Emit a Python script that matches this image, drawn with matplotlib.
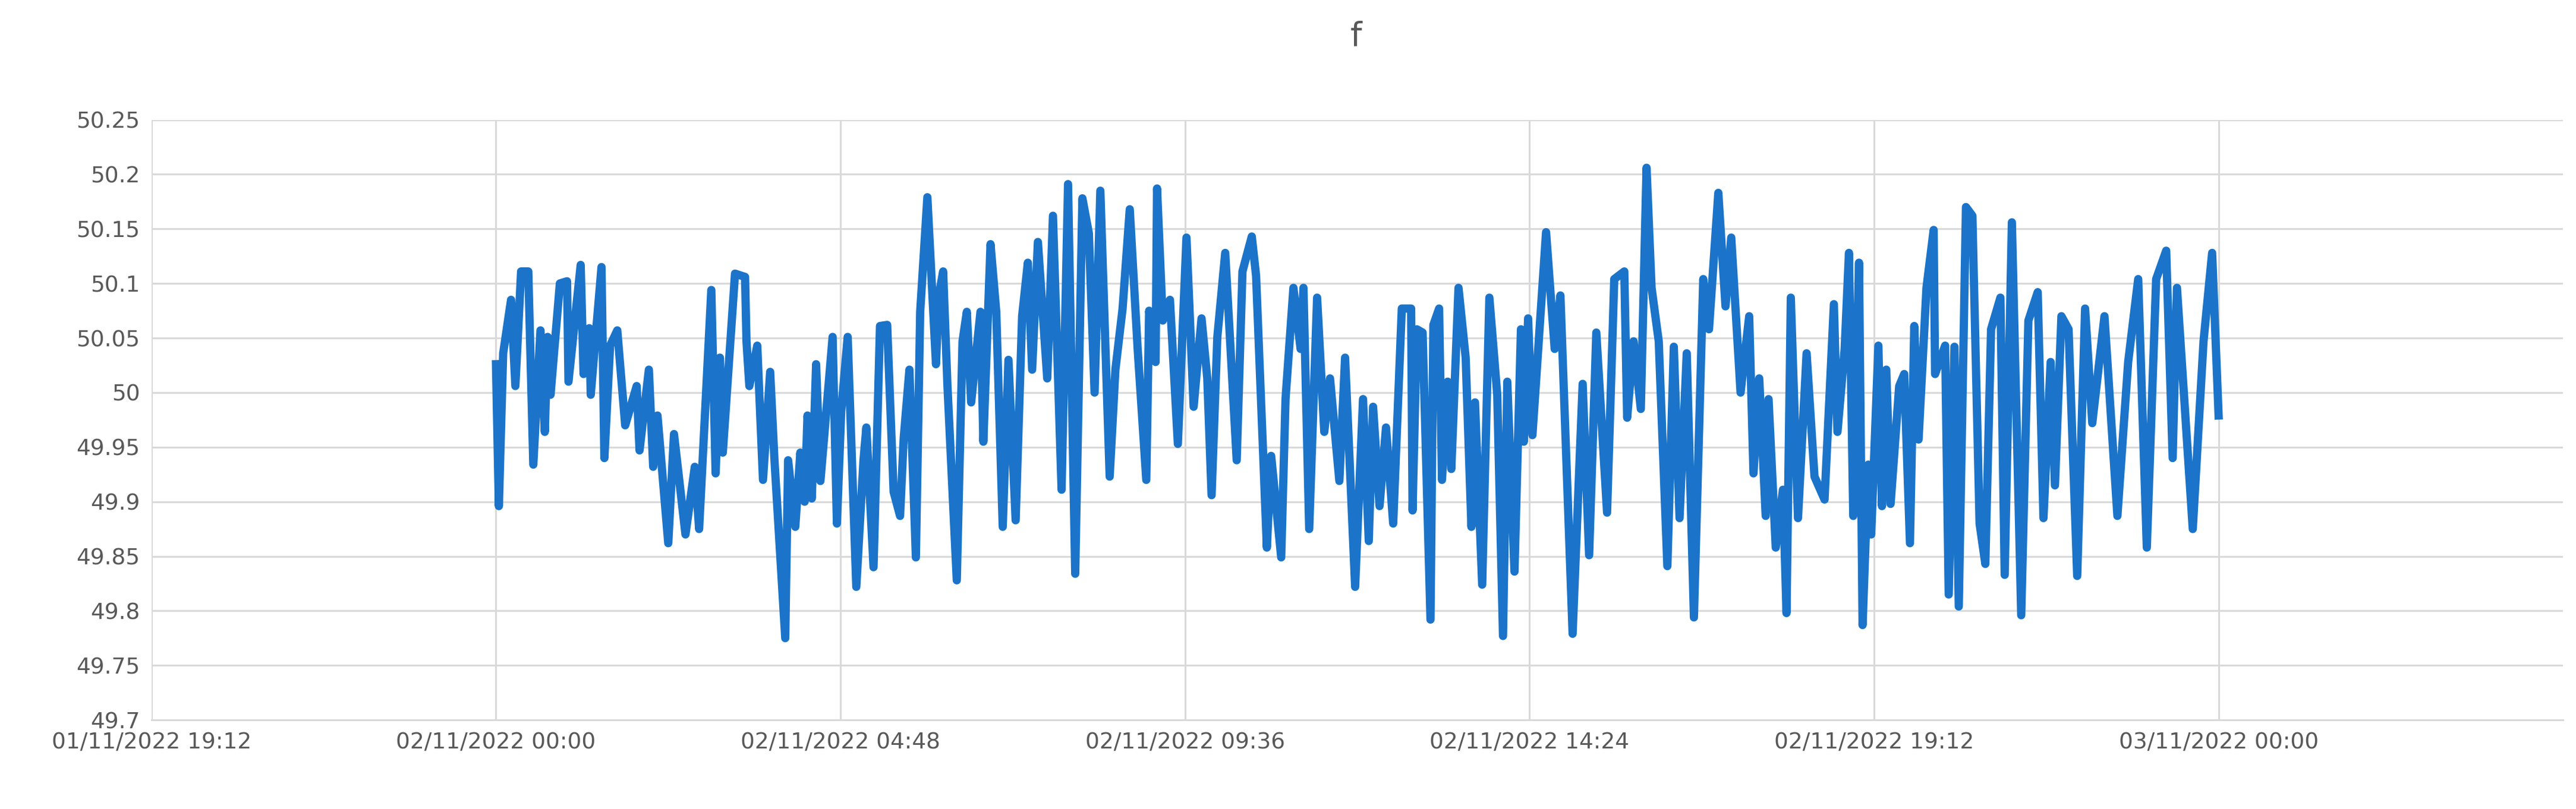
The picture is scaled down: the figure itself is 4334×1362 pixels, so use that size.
import matplotlib
matplotlib.use("Agg")
import matplotlib.pyplot as plt
import numpy as np

# hours since 02/11/2022 00:00, grid frequency (Hz)
HOURS = [
    0.00, 0.04, 0.10, 0.21, 0.27, 0.35, 0.45, 0.52, 0.62, 0.68, 0.72, 0.76, 0.89, 0.99,
    1.01, 1.18, 1.22, 1.30, 1.32, 1.47, 1.51, 1.59, 1.69, 1.80, 1.96, 2.00, 2.13, 2.19,
    2.25, 2.40, 2.48, 2.64, 2.77, 2.83, 3.00, 3.06, 3.12, 3.16, 3.33, 3.47, 3.49, 3.53,
    3.64, 3.72, 3.82, 3.88, 4.03, 4.07, 4.17, 4.24, 4.30, 4.34, 4.40, 4.46, 4.52, 4.69,
    4.75, 4.81, 4.90, 5.02, 5.12, 5.16, 5.26, 5.35, 5.45, 5.54, 5.63, 5.68, 5.76, 5.85,
    5.91, 6.01, 6.13, 6.17, 6.23, 6.29, 6.42, 6.50, 6.56, 6.62, 6.75, 6.79, 6.89, 6.97,
    7.06, 7.14, 7.24, 7.33, 7.41, 7.47, 7.55, 7.68, 7.76, 7.88, 7.97, 8.07, 8.17, 8.26,
    8.34, 8.42, 8.55, 8.63, 8.73, 8.83, 8.94, 9.06, 9.10, 9.19, 9.21, 9.29, 9.39, 9.50,
    9.62, 9.72, 9.83, 9.91, 9.97, 10.05, 10.16, 10.32, 10.40, 10.53, 10.59, 10.74, 10.80,
    10.94, 11.00, 11.11, 11.21, 11.25, 11.33, 11.44, 11.54, 11.62, 11.75, 11.83, 11.97,
    12.08, 12.16, 12.22, 12.31, 12.40, 12.50, 12.62, 12.75, 12.77, 12.83, 12.91, 13.02,
    13.06, 13.14, 13.18, 13.26, 13.31, 13.41, 13.51, 13.59, 13.64, 13.74, 13.84, 13.95,
    14.03, 14.09, 14.19, 14.28, 14.32, 14.38, 14.44, 14.63, 14.75, 14.83, 15.00, 15.14,
    15.23, 15.33, 15.48, 15.58, 15.72, 15.76, 15.85, 15.95, 16.03, 16.10, 16.20, 16.32,
    16.41, 16.49, 16.59, 16.69, 16.82, 16.90, 17.03, 17.13, 17.21, 17.34, 17.46, 17.52,
    17.60, 17.69, 17.73, 17.83, 17.93, 17.98, 18.04, 18.14, 18.26, 18.37, 18.51, 18.64,
    18.69, 18.79, 18.85, 18.91, 18.99, 19.04, 19.12, 19.16, 19.26, 19.31, 19.37, 19.43,
    19.55, 19.62, 19.70, 19.76, 19.82, 19.93, 20.03, 20.05, 20.19, 20.24, 20.32, 20.38,
    20.48, 20.57, 20.67, 20.75, 20.83, 20.96, 21.02, 21.12, 21.25, 21.35, 21.48, 21.56,
    21.66, 21.72, 21.81, 21.91, 22.03, 22.14, 22.24, 22.41, 22.59, 22.74, 22.88, 23.00,
    23.13, 23.27, 23.36, 23.42, 23.64, 23.79, 23.91, 24.00,
]
FREQ = [
    50.026, 49.896, 50.036, 50.085, 50.006, 50.111, 50.111, 49.934, 50.057, 49.964, 50.051, 49.998, 50.100, 50.102,
    50.010, 50.117, 50.017, 50.059, 49.998, 50.115, 49.940, 50.043, 50.057, 49.970, 50.006, 49.947, 50.021, 49.932,
    49.979, 49.862, 49.962, 49.870, 49.932, 49.875, 50.094, 49.926, 50.032, 49.945, 50.109, 50.106, 50.047, 50.006,
    50.043, 49.920, 50.019, 49.938, 49.775, 49.938, 49.877, 49.945, 49.900, 49.979, 49.903, 50.026, 49.919, 50.051,
    49.880, 49.983, 50.051, 49.822, 49.938, 49.968, 49.840, 50.061, 50.062, 49.909, 49.887, 49.958, 50.021, 49.849,
    50.074, 50.179, 50.026, 50.089, 50.111, 50.006, 49.828, 50.047, 50.074, 49.991, 50.074, 49.955, 50.136, 50.074,
    49.877, 50.030, 49.883, 50.070, 50.119, 50.021, 50.138, 50.013, 50.162, 49.911, 50.191, 49.834, 50.178, 50.146,
    50.000, 50.185, 49.923, 50.021, 50.077, 50.168, 50.040, 49.920, 50.075, 50.028, 50.187, 50.066, 50.085, 49.953,
    50.142, 49.987, 50.068, 50.013, 49.906, 50.051, 50.128, 49.938, 50.111, 50.143, 50.107, 49.858, 49.942,
    49.849, 49.994, 50.096, 50.040, 50.096, 49.875, 50.087, 49.964, 50.013, 49.919, 50.032, 49.822,
    49.994, 49.864, 49.987, 49.896, 49.968, 49.880, 50.077, 50.077, 49.892, 50.058, 50.055, 49.792,
    50.062, 50.077, 49.920, 50.010, 49.930, 50.096, 50.032, 49.877, 49.991, 49.824, 50.087, 49.998,
    49.777, 50.010, 49.836, 50.058, 49.955, 50.068, 49.961, 50.147, 50.040, 50.089, 49.779, 50.008,
    49.851, 50.055, 49.890, 50.104, 50.111, 49.977, 50.047, 49.985, 50.206, 50.096, 50.047, 49.841,
    50.042, 49.885, 50.036, 49.794, 50.104, 50.058, 50.183, 50.079, 50.142, 50.000, 50.070, 49.926,
    50.013, 49.887, 49.994, 49.858, 49.911, 49.798, 50.087, 49.885, 50.036, 49.923, 49.902, 50.081,
    49.964, 50.040, 50.128, 49.887, 50.119, 49.787, 49.934, 49.870, 50.043, 49.896, 50.021, 49.898,
    50.006, 50.017, 49.862, 50.061, 49.957, 50.096, 50.149, 50.017, 50.043, 49.815, 50.042, 49.804,
    50.170, 50.162, 49.880, 49.843, 50.058, 50.087, 49.833, 50.156, 49.796, 50.066, 50.092, 49.885,
    50.028, 49.915, 50.070, 50.058, 49.832, 50.077, 49.972, 50.070, 49.887, 50.028, 50.104, 49.858,
    50.104, 50.130, 49.940, 50.096, 49.875, 50.047, 50.128, 49.979,
]

X_TICKS = [-4.8, 0.0, 4.8, 9.6, 14.4, 19.2, 24.0]
X_LABELS = ["01/11/2022 19:12", "02/11/2022 00:00", "02/11/2022 04:48",
            "02/11/2022 09:36", "02/11/2022 14:24", "02/11/2022 19:12",
            "03/11/2022 00:00"]
Y_TICKS = [49.7, 49.75, 49.8, 49.85, 49.9, 49.95, 50, 50.05, 50.1, 50.15, 50.2, 50.25]
Y_LABELS = ["49.7", "49.75", "49.8", "49.85", "49.9", "49.95", "50", "50.05",
            "50.1", "50.15", "50.2", "50.25"]

TEXT_C = "#595959"
GRID_C = "#d9d9d9"

fig = plt.figure(figsize=(43.34, 13.62), dpi=100)
ax = fig.add_axes([0.0588, 0.110, 0.9362, 0.742])

ax.plot(HOURS, FREQ, color="#1b74c9", linewidth=10, solid_joinstyle="round", zorder=3)

ax.set_xlim(-4.8, 28.8)
ax.set_ylim(49.7, 50.25)
ax.set_xticks(X_TICKS)
ax.set_xticklabels(X_LABELS)
ax.set_yticks(Y_TICKS)
ax.set_yticklabels(Y_LABELS)
ax.grid(True, color=GRID_C, linewidth=2.2, zorder=0)
ax.set_axisbelow(True)

for side in ["top", "right", "left"]:
    ax.spines[side].set_visible(False)
ax.spines["bottom"].set_color(GRID_C)
ax.spines["bottom"].set_linewidth(2.2)
ax.tick_params(length=0, labelsize=27, labelcolor=TEXT_C, pad=14)

fig.text(0.5265, 0.955, "f", ha="center", va="center", fontsize=40, color=TEXT_C)

fig.savefig("out.png", dpi=100)
